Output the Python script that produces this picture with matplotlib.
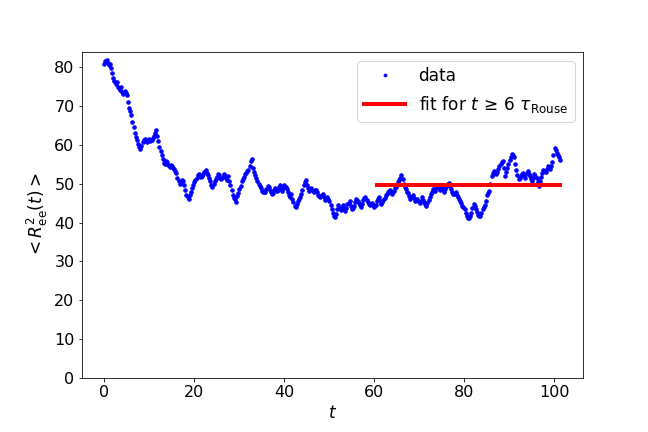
import numpy as np
import matplotlib
matplotlib.use('Agg')
import matplotlib.pyplot as plt

matplotlib.rcParams['font.size'] = 16

# end-to-end distance squared (one value every ~0.25 time units)
r2_values = [
    80.8, 81.5, 81.9, 81.2, 80.6, 80.9, 79.8, 78.6, 77.2, 76.4,
    75.8, 76.2, 75.0, 74.6, 74.2, 75.0, 73.6, 73.1, 74.0, 73.4,
    72.8, 71.0, 69.5, 68.8, 67.8, 66.0, 64.5, 63.2, 62.0, 61.2,
    60.3, 59.6, 59.0, 59.8, 60.8, 61.4, 61.5, 61.0, 60.8, 61.3,
    61.6, 60.9, 61.2, 61.8, 62.3, 63.0, 63.8, 62.4, 61.0, 59.6,
    58.5, 57.3, 56.5, 55.4, 55.0, 55.9, 55.6, 54.8, 54.2, 54.9,
    54.6, 54.0, 53.8, 53.2, 52.8, 51.6, 50.6, 50.0, 50.2, 51.0,
    50.8, 49.6, 48.5, 47.2, 46.5, 46.0, 47.2, 48.0, 48.8, 49.6,
    50.4, 51.0, 51.5, 52.2, 52.6, 51.9, 51.8, 52.0, 52.4, 53.0,
    53.6, 52.9, 52.2, 51.4, 50.6, 49.8, 49.2, 50.0, 50.8, 51.2,
    51.8, 52.4, 52.3, 51.6, 51.2, 51.8, 52.6, 52.0, 51.4, 51.0,
    51.9, 50.8, 49.8, 48.4, 47.0, 46.4, 46.0, 45.4, 46.8, 47.6,
    48.6, 49.5, 50.6, 51.2, 51.8, 52.4, 52.8, 53.2, 53.5, 54.6,
    55.8, 56.4, 54.0, 53.0, 52.2, 51.5, 50.8, 50.0, 49.5, 48.8,
    48.2, 47.9, 47.8, 48.0, 48.6, 49.4, 49.2, 48.5, 48.0, 47.4,
    47.6, 48.3, 48.9, 48.2, 48.4, 49.2, 49.6, 48.9, 48.2, 49.0,
    49.8, 49.3, 48.6, 47.8, 47.0, 46.6, 47.3, 46.2, 45.2, 44.4,
    44.0, 44.8, 45.6, 46.0, 46.5, 47.4, 48.5, 49.6, 50.5, 50.9,
    49.6, 48.8, 48.2, 48.6, 48.8, 48.2, 47.8, 48.3, 48.5, 47.9,
    47.2, 46.9, 46.5, 47.0, 47.4, 46.5, 45.8, 46.2, 46.6, 46.0,
    45.6, 44.6, 43.5, 42.4, 41.6, 41.4, 42.3, 43.4, 44.6, 43.8,
    43.2, 43.8, 44.5, 43.6, 43.0, 43.9, 44.8, 45.1, 45.5, 44.4,
    43.6, 43.9, 44.2, 45.2, 46.0, 45.6, 45.0, 44.5, 44.0, 44.9,
    45.8, 46.3, 46.6, 45.8, 45.2, 44.9, 44.6, 44.7, 45.0, 44.5,
    44.0, 44.6, 45.5, 46.1, 46.5, 45.6, 44.8, 45.2, 45.8, 46.4,
    47.0, 47.5, 47.8, 48.2, 48.4, 48.0, 47.5, 48.1, 48.9, 49.3,
    49.8, 50.4, 51.0, 51.6, 52.2, 51.2, 50.0, 49.2, 48.6, 48.0,
    47.6, 46.8, 46.2, 46.5, 47.0, 46.3, 45.5, 45.8, 46.2, 45.6,
    45.0, 45.7, 46.6, 45.9, 45.3, 44.8, 44.4, 45.0, 45.8, 46.6,
    47.5, 48.0, 48.6, 48.5, 48.2, 48.9, 49.6, 49.0, 48.4, 48.8,
    49.2, 48.6, 48.0, 48.7, 49.5, 49.9, 50.2, 49.4, 48.6, 48.0,
    47.4, 47.5, 47.8, 47.2, 46.5, 46.0, 45.6, 45.0, 44.4, 44.0,
    43.5, 42.6, 41.8, 41.3, 41.2, 41.8, 42.6, 43.7, 44.8, 44.2,
    43.6, 42.8, 42.0, 41.7, 41.8, 42.6, 43.5, 44.0, 44.5, 45.6,
    47.0, 47.6, 48.2, 50.0, 52.0, 52.7, 53.2, 52.9, 52.5, 53.1,
    53.8, 54.5, 55.2, 55.5, 55.8, 54.0, 52.0, 53.0, 54.0, 55.1,
    56.2, 57.0, 57.8, 57.5, 57.0, 55.2, 53.5, 52.3, 51.2, 51.6,
    52.0, 52.4, 52.8, 52.2, 51.6, 52.4, 53.2, 52.6, 52.0, 51.3,
    50.6, 51.6, 52.6, 52.0, 51.5, 50.4, 49.4, 50.6, 51.8, 52.7,
    53.6, 53.3, 53.0, 53.8, 54.6, 54.2, 53.8, 54.7, 55.6, 57.4,
    59.2, 58.6, 58.0, 57.5, 57.0, 56.2,
]
t_end = 101.3
fit_start = 60.5
fit_value = 49.6

t = np.linspace(0, t_end, len(r2_values))

fig = plt.figure(figsize=(9, 6), dpi=72)
ax = fig.add_axes([0.1258, 0.125, 0.7739, 0.7546])

ax.plot(t, r2_values, '.', color='blue', markersize=7, label='data')
ax.plot([fit_start, t_end], [fit_value, fit_value], '-', color='red', lw=4,
        label=r'fit for $t\,\geq\,6\ \tau_{\rm Rouse}$')

ax.set_ylim(bottom=0)
ax.set_xlabel(r'$t$', fontsize=17)
ax.set_ylabel(r'$< R_{\rm ee}^2(t) >$', fontsize=17)
ax.legend(loc='upper right', fontsize=17, handlelength=2.4, markerscale=0.8)

fig.savefig('out.png', dpi=72)
